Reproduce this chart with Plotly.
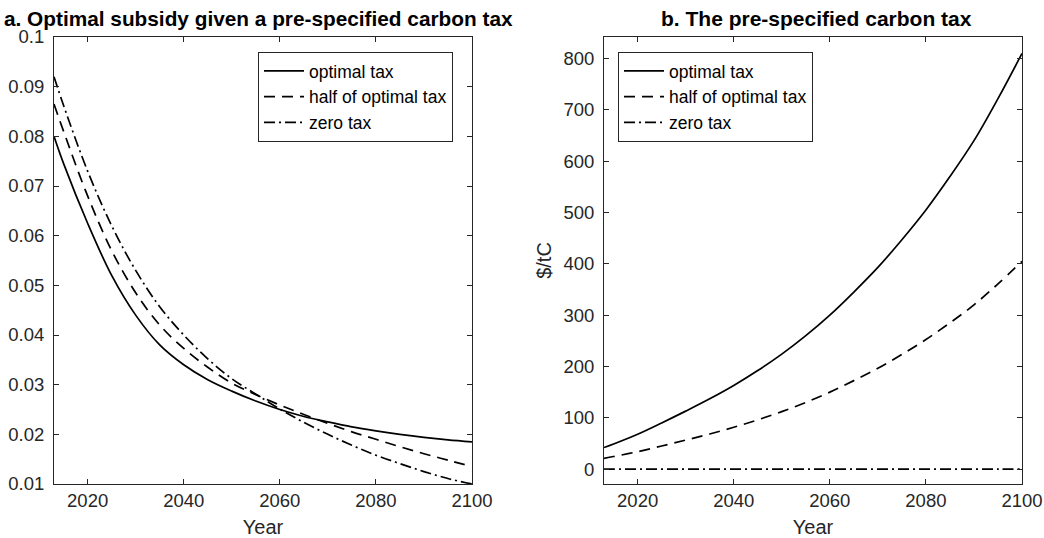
import plotly.graph_objects as go

# ---------------- data ----------------
years = [2013, 2015, 2020, 2025, 2030, 2035, 2040, 2045, 2050, 2055, 2060,
         2065, 2070, 2075, 2080, 2085, 2090, 2095, 2100]

# panel a: optimal subsidy
sub_optimal = [0.0800, 0.0745, 0.0625, 0.0520, 0.0440, 0.0380, 0.0340, 0.0310,
               0.0287, 0.0267, 0.0250, 0.0236, 0.0225, 0.0215, 0.0207, 0.0200,
               0.0194, 0.0189, 0.0185]
sub_half = [0.0865, 0.0810, 0.0680, 0.0570, 0.0485, 0.0420, 0.0373, 0.0335,
            0.0303, 0.0280, 0.0259, 0.0240, 0.0222, 0.0205, 0.0190, 0.0175,
            0.0161, 0.0148, 0.0135]
sub_zero = [0.0920, 0.0862, 0.0730, 0.0620, 0.0530, 0.0457, 0.0400, 0.0352,
            0.0312, 0.0281, 0.0251, 0.0224, 0.0200, 0.0178, 0.0158, 0.0141,
            0.0125, 0.0111, 0.0100]

# panel b: pre-specified carbon tax ($/tC)
tax_optimal = [42, 49, 68, 90, 113, 137, 163, 192, 224, 260, 300, 345, 393,
               447, 505, 570, 640, 722, 810]
tax_half = [21, 24.5, 34, 45, 56.5, 68.5, 81.5, 96, 112, 130, 150, 172.5,
            196.5, 223.5, 252.5, 285, 320, 361, 405]
tax_zero = [0, 0, 0, 0, 0, 0, 0, 0, 0, 0, 0, 0, 0, 0, 0, 0, 0, 0, 0]

series_names = ["optimal tax", "half of optimal tax", "zero tax"]
x_ticks = [2020, 2040, 2060, 2080, 2100]
ya_ticks = [0.01, 0.02, 0.03, 0.04, 0.05, 0.06, 0.07, 0.08, 0.09, 0.1]
ya_ticktext = ["0.01", "0.02", "0.03", "0.04", "0.05", "0.06", "0.07", "0.08", "0.09", "0.1"]
yb_ticks = [0, 100, 200, 300, 400, 500, 600, 700, 800]

# ---------------- styling ----------------
FONT = "Liberation Sans, Arial, Helvetica, sans-serif"
AX = "#262626"
dashes = ["solid", "11px,7px", "11px,4px,2px,4px"]
W = 1044
H = 538

fig = go.Figure()

for vals, name, d in zip([sub_optimal, sub_half, sub_zero], series_names, dashes):
    fig.add_trace(go.Scatter(x=years, y=vals, mode="lines", name=name,
                             line=dict(color="black", width=1.7, dash=d, shape="spline", smoothing=1.0),
                             xaxis="x", yaxis="y", legend="legend"))

for vals, name, d in zip([tax_optimal, tax_half, tax_zero], series_names, dashes):
    fig.add_trace(go.Scatter(x=years, y=vals, mode="lines", name=name,
                             line=dict(color="black", width=1.7, dash=d, shape="spline", smoothing=1.0),
                             xaxis="x2", yaxis="y2", legend="legend2"))

ydom = [(H - 484) / H, (H - 37) / H]
common_axis = dict(showline=True, linecolor=AX, linewidth=1, mirror="ticks",
                   ticks="inside", ticklen=5, tickcolor=AX, showgrid=False,
                   zeroline=False, automargin=False, ticklabeloverflow="allow",
                   tickfont=dict(family=FONT, size=18.5, color=AX))
title_font = dict(family=FONT, size=20, color=AX)
legend_common = dict(yanchor="top", xanchor="left", bgcolor="white",
                     bordercolor=AX, borderwidth=1,
                     font=dict(family=FONT, size=17.5, color="black"),
                     itemwidth=40, tracegroupgap=0)

fig.update_layout(
    width=W, height=H,
    margin=dict(l=0, r=0, t=0, b=0, autoexpand=False),
    paper_bgcolor="white", plot_bgcolor="white",
    font=dict(family=FONT, color=AX),
    xaxis=dict(domain=[54 / W, 472 / W], range=[2013, 2100], tickvals=x_ticks,
               title=dict(text="Year", font=title_font, standoff=12),
               anchor="y", **common_axis),
    yaxis=dict(domain=ydom, range=[0.01, 0.1], tickvals=ya_ticks, ticktext=ya_ticktext,
               ticklabelstandoff=5, anchor="x", **common_axis),
    xaxis2=dict(domain=[604 / W, 1022 / W], range=[2013, 2100], tickvals=x_ticks,
                title=dict(text="Year", font=title_font, standoff=12),
                anchor="y2", **common_axis),
    yaxis2=dict(domain=ydom, range=[-29, 842], tickvals=yb_ticks, anchor="x2",
                ticklabelstandoff=5,
                title=dict(text="$/tC", font=title_font, standoff=6),
                **common_axis),
    legend=dict(x=258 / W, y=(H - 52) / H, **legend_common),
    legend2=dict(x=618 / W, y=(H - 52) / H, **legend_common),
    showlegend=True,
    annotations=[
        dict(text="<b>a. Optimal subsidy given a pre-specified carbon tax</b>",
             x=258 / W, y=(H - 19) / H, xref="paper", yref="paper",
             xanchor="center", yanchor="middle", showarrow=False,
             font=dict(family=FONT, size=20.8, color="black")),
        dict(text="<b>b. The pre-specified carbon tax</b>",
             x=816 / W, y=(H - 19) / H, xref="paper", yref="paper",
             xanchor="center", yanchor="middle", showarrow=False,
             font=dict(family=FONT, size=21, color="black")),
    ],
)

# remove the browser's default 8px page margin so the figure fills the window
fig.write_html("out.html", config={"displayModeBar": False},
               post_script="document.body.style.margin='0';")
